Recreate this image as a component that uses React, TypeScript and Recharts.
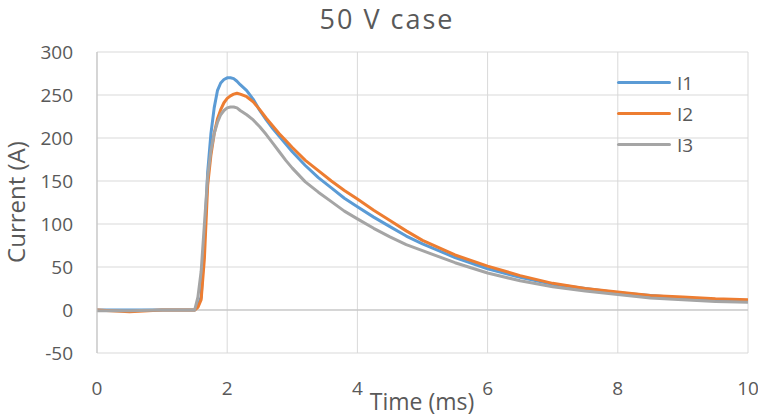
import { LineChart, Line, XAxis, YAxis, CartesianGrid, ReferenceLine } from 'recharts'

const timeMs = [
  0, 0.5, 1.0, 1.45, 1.5, 1.55, 1.6, 1.65, 1.7, 1.75, 1.8, 1.85, 1.9, 1.95, 2.0, 2.05, 2.1, 2.15, 2.2,
  2.3, 2.4, 2.5, 2.6, 2.7, 2.8, 2.9, 3.0, 3.2, 3.4, 3.6, 3.8, 4.0, 4.25, 4.5, 4.75, 5.0, 5.5, 6.0,
  6.5, 7.0, 7.5, 8.0, 8.5, 9.0, 9.5, 10.0,
]
const i1 = [
  0, 0, 0, 0, 0, 5, 15, 80, 160, 205, 235, 255, 264, 268, 270, 270, 269, 266, 262,
  255, 245, 232, 221, 211, 202, 193, 184, 168, 154, 142, 130, 120, 108, 97, 86, 77, 61, 48,
  38, 30, 25, 20, 17, 14, 12, 11,
]
const i2 = [
  0, -2, 0, 0, 0, 3, 12, 60, 145, 180, 205, 222, 233, 241, 246, 249, 251, 252, 251,
  248, 242, 233, 223, 214, 205, 197, 189, 174, 162, 150, 139, 129, 116, 104, 92, 81, 64, 51,
  40, 31, 25, 21, 17, 15, 13, 12,
]
const i3 = [
  -1, -1, 0, 0, 0, 15, 45, 100, 155, 185, 205, 218, 227, 232, 235, 236, 236, 235, 232,
  227, 221, 213, 204, 194, 184, 174, 165, 149, 137, 126, 115, 106, 95, 85, 76, 69, 55, 43,
  34, 27, 22, 18, 14, 12, 10, 9,
]
const xTicks = [0, 2, 4, 6, 8, 10]
const yTicks = [-50, 0, 50, 100, 150, 200, 250, 300]

const seriesNames = ['I1', 'I2', 'I3']
const seriesColors = ['#5b9bd5', '#ed7d31', '#a5a5a5']

const data = timeMs.map((t, i) => ({ t, I1: i1[i], I2: i2[i], I3: i3[i] }))

const FONT = '"Open Sans", sans-serif'
const TEXT = '#595959'

export default function App() {
  return (
    <div style={{ position: 'absolute', left: 0, top: 0, width: 758, height: 417, background: '#fff', overflow: 'hidden' }}>
      <LineChart width={758} height={417} data={data} margin={{ top: 52, right: 10, bottom: 0, left: 0 }}>
        <CartesianGrid stroke="#d9d9d9" strokeWidth={1} />
        <XAxis
          dataKey="t"
          type="number"
          domain={[0, 10]}
          ticks={xTicks}
          height={64}
          axisLine={false}
          tickLine={false}
          tickMargin={23}
          tick={{ fill: TEXT, fontSize: 19, fontFamily: FONT }}
          interval={0}
          label={{
            content: () => (
              <text x={422} y={410} textAnchor="middle" fill={TEXT} fontSize={23} fontFamily={FONT}>
                Time (ms)
              </text>
            ),
          }}
        />
        <YAxis
          type="number"
          domain={[-50, 300]}
          ticks={yTicks}
          width={97}
          axisLine={{ stroke: '#bfbfbf', strokeWidth: 1 }}
          tickLine={false}
          tickMargin={18}
          tick={{ fill: TEXT, fontSize: 19, fontFamily: FONT }}
          interval={0}
          label={{
            content: () => (
              <text
                x={15}
                y={202}
                transform="rotate(-90 15 202)"
                textAnchor="middle"
                dominantBaseline="central"
                fill={TEXT}
                fontSize={24}
                fontFamily={FONT}
              >
                Current (A)
              </text>
            ),
          }}
        />
        <ReferenceLine y={0} stroke="#bfbfbf" strokeWidth={1} />
        {seriesNames.map((name, i) => (
          <Line
            key={name}
            type="linear"
            dataKey={name}
            stroke={seriesColors[i]}
            strokeWidth={3}
            dot={false}
            isAnimationActive={false}
            strokeLinejoin="round"
          />
        ))}
      </LineChart>
      <div
        style={{
          position: 'absolute',
          left: 0,
          width: 774,
          top: 0,
          textAlign: 'center',
          fontFamily: FONT,
          fontSize: 27,
          letterSpacing: 2,
          color: TEXT,
        }}
      >
        50 V case
      </div>
      <div style={{ position: 'absolute', left: 617, top: 67 }}>
        {seriesNames.map((name, i) => (
          <div key={name} style={{ display: 'flex', alignItems: 'center', height: 31 }}>
            <div style={{ width: 54, height: 3, background: seriesColors[i], borderRadius: 2 }} />
            <span style={{ marginLeft: 6, fontFamily: FONT, fontSize: 19, color: TEXT }}>{name}</span>
          </div>
        ))}
      </div>
    </div>
  )
}
